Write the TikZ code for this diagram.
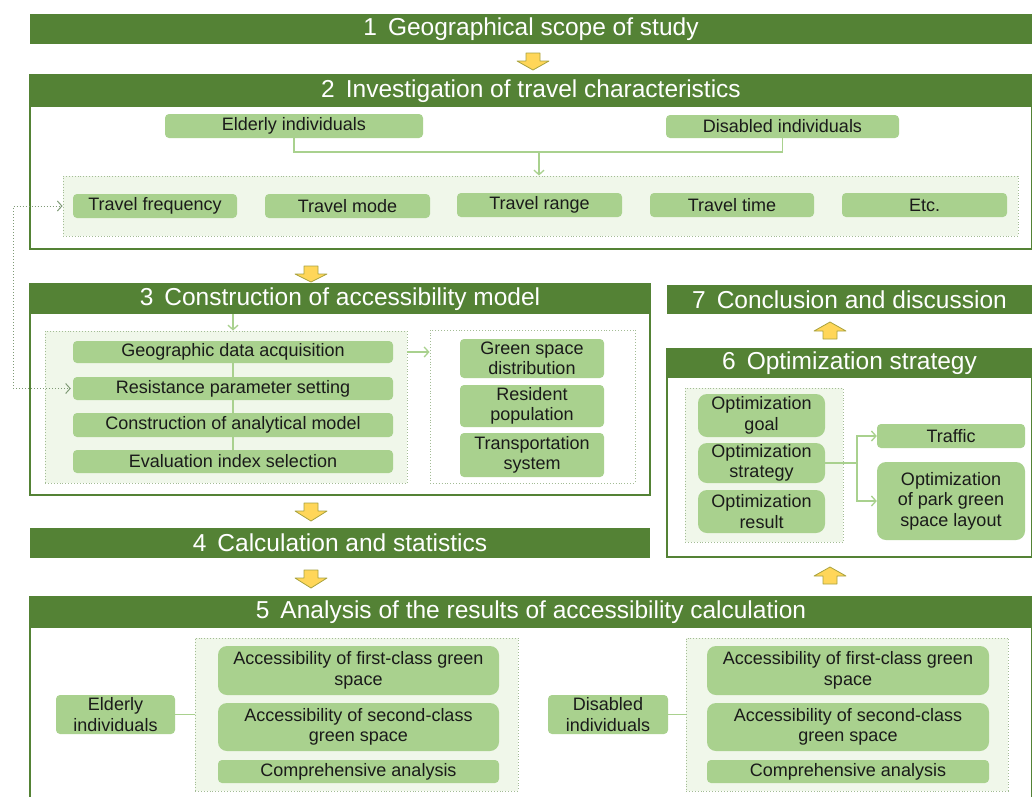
\documentclass[tikz,border=0pt]{standalone}
\usepackage{fontspec}
\setmainfont{Liberation Sans}
\usetikzlibrary{arrows.meta}
\definecolor{dkgreen}{HTML}{548235}
\definecolor{ltgreen}{HTML}{A9D18E}
\definecolor{paleg}{HTML}{F0F7EA}
\definecolor{dotg}{HTML}{A3BC95}
\definecolor{fbg}{HTML}{7F9A76}
\definecolor{yel}{HTML}{FFD659}
\definecolor{yeldraw}{HTML}{A8A23E}
\definecolor{txt}{HTML}{1A1A1A}
\pgfdeclarelayer{back}\pgfdeclarelayer{mid}\pgfsetlayers{back,mid,main}
\newcommand\mybox[7]{\node[#1, minimum width={(#4-#2)*1pt}, minimum height={(#5-#3)*1pt}] (#6) at ({(#2+#4)/2},{(#3+#5)/2}) {#7};}
\newcommand\yarrdown[3]{\draw[yarrow] ({#1-7},#2) -- ({#1+7},#2) -- ({#1+7},{#2+8}) -- ({#1+16},{#2+8}) -- (#1,#3) -- ({#1-16},{#2+8}) -- ({#1-7},{#2+8}) -- cycle;}
\newcommand\yarrup[3]{\draw[yarrow] ({#1-7},#3) -- ({#1+7},#3) -- ({#1+7},{#3-8}) -- ({#1+16},{#3-8}) -- (#1,#2) -- ({#1-16},{#3-8}) -- ({#1-7},{#3-8}) -- cycle;}
\tikzset{
  frame/.style={draw=dkgreen, line width=1.6pt, fill=white, inner sep=0pt},
  banner/.style={fill=dkgreen, text=white, font=\fontsize{24.5}{27}\selectfont, inner sep=0pt},
  dotbox/.style={draw=dotg, dotted, line width=0.9pt, fill=paleg, inner sep=0pt},
  dotboxw/.style={draw=dotg, dotted, line width=0.9pt, fill=white, inner sep=0pt},
  gbox/.style={fill=ltgreen, rounded corners=4pt, text=txt, font=\fontsize{18}{20.5}\selectfont, align=center, inner sep=0pt},
  gboxr/.style={gbox, rounded corners=9pt},
  conn/.style={draw=ltgreen, line width=1.3pt},
  tip/.style={-{Straight Barb[length=4.5pt,width=10pt]}},
  fb/.style={draw=fbg, dotted, line width=1pt},
  yarrow/.style={fill=yel, draw=yeldraw, line width=0.8pt, line join=round}
}
\begin{document}
\begin{tikzpicture}[x=1pt,y=-1pt]
\useasboundingbox (0,0) rectangle (1032,796);
% ---------- frames and dotted boxes ----------
\begin{pgfonlayer}{back}
\mybox{frame}{30}{75}{1032}{249}{f2}{}
\mybox{frame}{30}{284}{650}{495}{f3}{}
\mybox{frame}{667}{349}{1032}{557}{f6}{}
\mybox{frame}{30}{597}{1032}{820}{f5}{}
\mybox{dotbox}{63}{176}{1018}{236}{d2}{}
\mybox{dotbox}{45}{331}{407}{483}{d3a}{}
\mybox{dotboxw}{430}{330}{635}{483}{d3b}{}
\mybox{dotbox}{685}{388}{843}{542}{d6}{}
\mybox{dotbox}{195}{638}{518}{791}{d5a}{}
\mybox{dotbox}{686}{638}{1008}{791}{d5b}{}
\end{pgfonlayer}
% ---------- banners ----------
\mybox{banner}{30}{14}{1032}{44}{b1}{1\hspace{0.45em}Geographical scope of study}
\mybox{banner}{30}{75}{1032}{107}{b2}{2\hspace{0.45em}Investigation of travel characteristics}
\mybox{banner}{30}{284}{650}{314}{b3}{3\hspace{0.45em}Construction of accessibility model}
\mybox{banner}{30}{528}{650}{558}{b4}{4\hspace{0.45em}Calculation and statistics}
\mybox{banner}{30}{597}{1032}{628}{b5}{5\hspace{0.45em}Analysis of the results of accessibility calculation}
\mybox{banner}{667}{349}{1032}{378}{b6}{6\hspace{0.45em}Optimization strategy}
\mybox{banner}{667}{285}{1032}{314}{b7}{7\hspace{0.45em}Conclusion and discussion}
% ---------- box 2 ----------
\mybox{gbox}{165}{114}{423}{138}{eld}{Elderly individuals}
\mybox{gbox}{666}{115}{899}{138}{dis}{Disabled individuals}
\mybox{gbox}{73}{194}{237}{218}{tf}{Travel frequency}
\mybox{gbox}{265}{194}{430}{218}{tm}{Travel mode}
\mybox{gbox}{457}{193}{622}{217}{tr}{Travel range}
\mybox{gbox}{650}{193}{814}{217}{tt}{Travel time}
\mybox{gbox}{842}{193}{1007}{217}{etc}{Etc.}
% ---------- box 3 ----------
\mybox{gbox}{73}{341}{393}{363}{gda}{Geographic data acquisition}
\mybox{gbox}{73}{377}{393}{400}{rps}{Resistance parameter setting}
\mybox{gbox}{73}{413}{393}{437}{cam}{Construction of analytical model}
\mybox{gbox}{73}{450}{393}{473}{eis}{Evaluation index selection}
\mybox{gbox}{460}{339}{604}{378}{gsd}{Green space\\distribution}
\mybox{gbox}{460}{385}{604}{427}{rpop}{Resident\\population}
\mybox{gbox}{460}{433}{604}{477}{tsys}{Transportation\\system}
% ---------- box 6 ----------
\mybox{gboxr}{698}{394}{825}{437}{og}{Optimization\\goal}
\mybox{gboxr}{698}{443}{825}{483}{ost}{Optimization\\strategy}
\mybox{gboxr}{698}{490}{825}{533}{ores}{Optimization\\result}
\mybox{gbox}{877}{424}{1025}{448}{traf}{Traffic}
\mybox{gboxr}{877}{462}{1025}{540}{park}{Optimization\\of park green\\space layout}
% ---------- box 5 ----------
\mybox{gbox}{56}{695}{175}{734}{el5}{Elderly\\individuals}
\mybox{gboxr}{218}{646}{499}{695}{a1}{Accessibility of first-class green\\space}
\mybox{gboxr}{218}{703}{499}{751}{a2}{Accessibility of second-class\\green space}
\mybox{gbox}{218}{760}{499}{783}{a3}{Comprehensive analysis}
\mybox{gbox}{548}{695}{668}{734}{dis5}{Disabled\\individuals}
\mybox{gboxr}{707}{646}{989}{695}{c1}{Accessibility of first-class green\\space}
\mybox{gboxr}{707}{703}{989}{751}{c2}{Accessibility of second-class\\green space}
\mybox{gbox}{707}{760}{989}{783}{c3}{Comprehensive analysis}
% ---------- connectors ----------
\coordinate (j2) at (539,152);
\coordinate (fbx) at (13,300);
\coordinate (j6) at (857,463);
\begin{pgfonlayer}{mid}
\draw[conn] (eld.south) |- (j2) -| (dis.south);
\draw[conn,tip] (j2) -- (j2 |- d2.north);
\draw[conn] (gda.center) -- (eis.center);
\draw[conn,tip] (b3.south -| gda.north) -- (gda.north |- d3a.north);
\draw[conn,tip] (d3a.east |- gda.east) -- (d3b.west |- gda.east);
\draw[fb,tip] (fbx |- rps.west) -- (fbx |- tf.west) -- (d2.west |- tf.west);
\draw[fb,tip] (fbx |- rps.west) -- ([xshift=-2pt]rps.west);
\draw[conn] (ost.east) -- (j6);
\draw[conn,tip] (j6) |- (traf.west);
\draw[conn,tip] (j6) |- (park.west);
\draw[conn] (el5.east) -- (d5a.west |- el5.east);
\draw[conn] (dis5.east) -- (d5b.west |- dis5.east);
\end{pgfonlayer}
% ---------- block arrows ----------
\yarrdown{533}{53}{70}
\yarrdown{311}{266}{282}
\yarrdown{311}{503}{521}
\yarrdown{311}{570}{588}
\yarrup{830}{322}{339}
\yarrup{830}{567}{584}
\end{tikzpicture}
\end{document}
